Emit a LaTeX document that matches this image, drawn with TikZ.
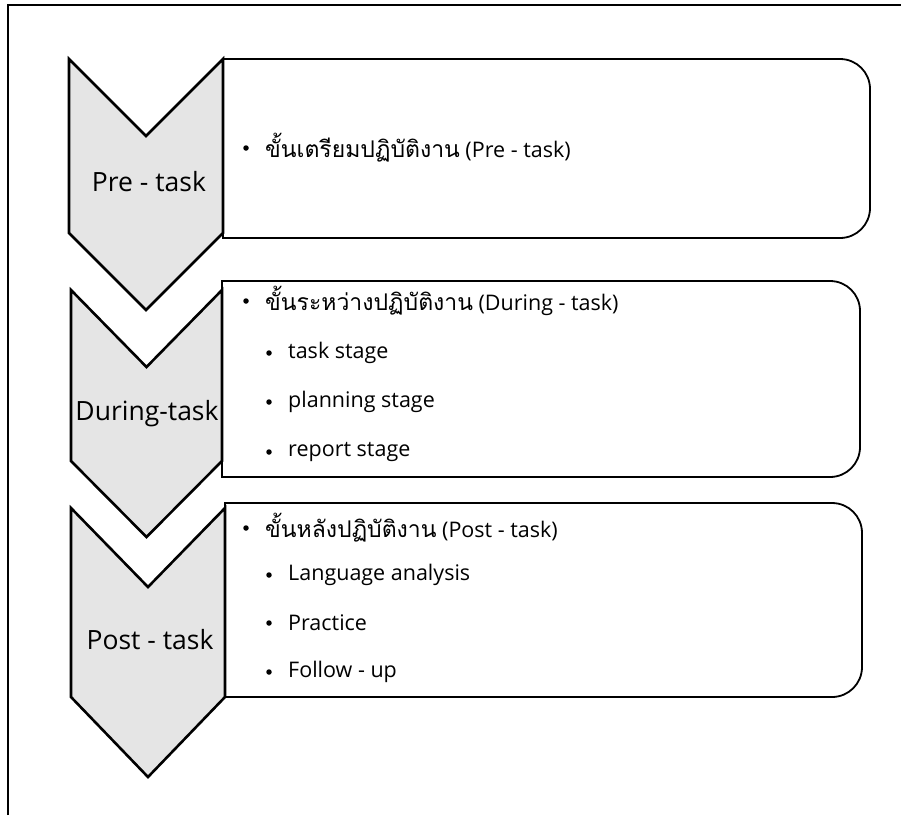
\documentclass[tikz,border=0pt]{standalone}
\usepackage{fontspec}
\setmainfont{Open Sans}
\newfontfamily\thai[Script=Thai]{Loma}
\newcommand\thtext[1]{{\thai\fontsize{23}{27}\selectfont #1}}
\begin{document}
\begin{tikzpicture}[x=1pt,y=-1pt,
  chev/.style={draw=black,line width=2.6pt,fill=black!10,line join=miter},
  pbox/.style={draw=black,line width=1.8pt,fill=white},
  lab/.style={font=\fontsize{26.5}{30}\selectfont,inner sep=0pt},
  itm/.style={font=\fontsize{21.5}{25}\selectfont,inner sep=0pt,anchor=west},
  bul/.style={circle,fill=black,inner sep=0pt,minimum size=5.5pt}]
\useasboundingbox (0,0) rectangle (901,815);
% frame
\draw[line width=2pt] (8,815) -- (8,5) -- (901,5);
% boxes
\foreach \L/\T/\R/\B in {223/59/870/238, 222/281/860/477, 225/503/862/697}{
  \draw[pbox] (\L,\T) -- (\R-30,\T) .. controls (\R-13.4,\T) and (\R,\T+13.4) .. (\R,\T+30)
    -- (\R,\B-30) .. controls (\R,\B-13.4) and (\R-13.4,\B) .. (\R-30,\B) -- (\L,\B) -- cycle;
}
% chevrons
\draw[chev] (69,59) -- (146,136) -- (223,59) -- (223,233) -- (146,310) -- (69,233) -- cycle;
\draw[chev] (71,290) -- (146.5,367) -- (222,290) -- (222,461) -- (146.5,537) -- (71,461) -- cycle;
\draw[chev] (71,508) -- (148,587) -- (225,508) -- (225,697) -- (148,777) -- (71,697) -- cycle;
% labels
\node[lab] (l1) at (149,182) {Pre - task};
\node[lab] (l2) at (147,414) {During-task};
\node[lab] (l3) at (150,640) {Post - task};
% box 1
\node[bul] (b1) at (246,148) {};
\node[itm] (t1) at (265,148) {\thtext{ขั้นเตรียมปฏิบัติงาน} (Pre - task)};
% box 2
\node[bul] (b2) at (246,301) {};
\node[itm] (t2) at (265,301) {\thtext{ขั้นระหว่างปฏิบัติงาน} (During - task)};
\node[bul] (b21) at (269,353) {};
\node[itm] (t21) at (288,353) {task stage};
\node[bul] (b22) at (269,402) {};
\node[itm] (t22) at (288,402) {planning stage};
\node[bul] (b23) at (269,452) {};
\node[itm] (t23) at (288,452) {report stage};
% box 3
\node[bul] (b3) at (246,528) {};
\node[itm] (t3) at (265,528) {\thtext{ขั้นหลังปฏิบัติงาน} (Post - task)};
\node[bul] (b31) at (269,575) {};
\node[itm] (t31) at (288,575) {Language analysis};
\node[bul] (b32) at (269,623) {};
\node[itm] (t32) at (288,623) {Practice};
\node[bul] (b33) at (269,672) {};
\node[itm] (t33) at (288,672) {Follow - up};
\end{tikzpicture}
\end{document}
